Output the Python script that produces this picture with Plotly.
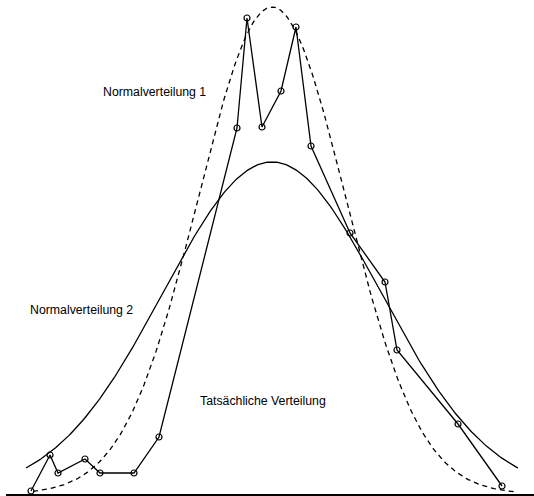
import numpy as np
import plotly.graph_objects as go

actual_x = [31, 50, 58, 85, 100, 134, 159, 237, 247, 262, 281, 296, 311, 350, 385, 397, 458, 502]
actual_y = [3, 39, 21, 35, 21, 21, 57, 366, 476, 367, 403, 467, 348, 261, 212, 144, 70, 8]

# Normal distribution 1 (dashed): mean, sigma, peak height, x extent
nv1_mean, nv1_sigma, nv1_peak = 272, 74, 487
nv1_xmin, nv1_xmax = 33, 515

# Normal distribution 2 (solid): mean, sigma, peak height, x extent
nv2_mean, nv2_sigma, nv2_peak = 272, 109, 332
nv2_xmin, nv2_xmax = 26, 518

labels = ["Normalverteilung 1", "Normalverteilung 2", "Tatsächliche Verteilung"]
label_x = [101, 28, 198]
label_y = [402, 184, 93]


def normal_curve(mean, sigma, peak, xmin, xmax):
    x = np.linspace(xmin, xmax, 300)
    y = peak * np.exp(-((x - mean) ** 2) / (2 * sigma ** 2))
    return x, y


x1, y1 = normal_curve(nv1_mean, nv1_sigma, nv1_peak, nv1_xmin, nv1_xmax)
x2, y2 = normal_curve(nv2_mean, nv2_sigma, nv2_peak, nv2_xmin, nv2_xmax)

fig = go.Figure()
fig.add_trace(go.Scatter(x=x1, y=y1, mode="lines",
                         line=dict(color="black", width=1.3, dash="5px,4px"),
                         cliponaxis=False, showlegend=False, hoverinfo="skip"))
fig.add_trace(go.Scatter(x=x2, y=y2, mode="lines",
                         line=dict(color="black", width=1.3),
                         cliponaxis=False, showlegend=False, hoverinfo="skip"))
fig.add_trace(go.Scatter(x=actual_x, y=actual_y, mode="lines+markers",
                         line=dict(color="black", width=1.3),
                         marker=dict(symbol="circle-open", size=6, color="black",
                                     line=dict(width=1.2, color="black")),
                         cliponaxis=False, showlegend=False))

for t, lx, ly in zip(labels, label_x, label_y):
    fig.add_annotation(x=lx, y=ly, text=t, showarrow=False, xanchor="left", yanchor="middle",
                       font=dict(family="Liberation Sans, Arial, sans-serif", size=12.3, color="black"))

fig.update_layout(
    width=534, height=496,
    margin=dict(l=6, r=0, t=0, b=2),
    paper_bgcolor="white", plot_bgcolor="white",
    xaxis=dict(range=[6, 534], showgrid=False, zeroline=False, showticklabels=False,
               ticks="", showline=True, linecolor="black", linewidth=1.5),
    yaxis=dict(range=[0, 494], showgrid=False, zeroline=False, showticklabels=False,
               ticks="", showline=False),
)

fig.write_html("out.html", config={"displayModeBar": False},
               post_script="document.body.style.margin='0';document.body.style.overflow='hidden';")
